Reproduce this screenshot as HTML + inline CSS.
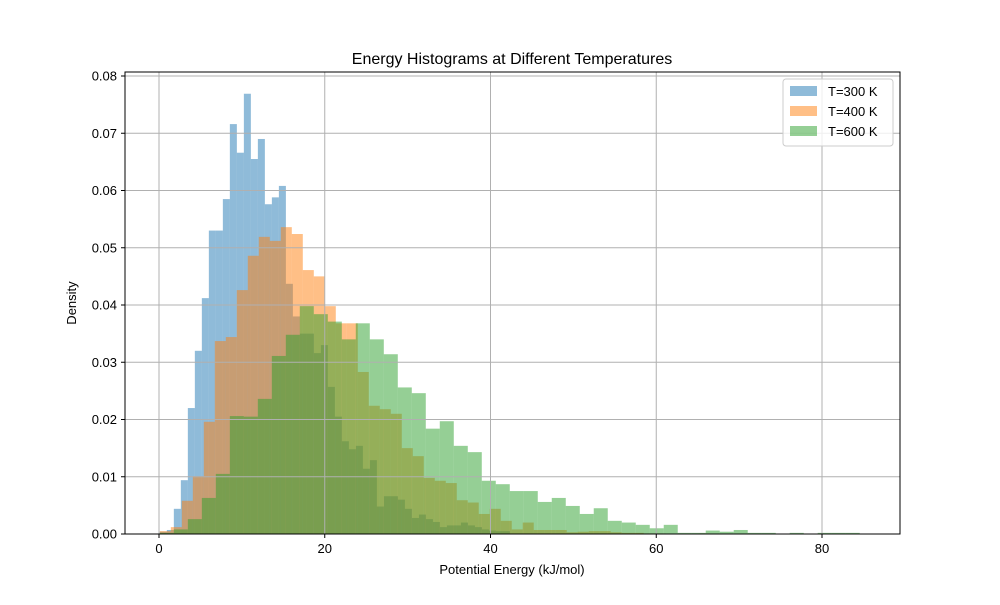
<!DOCTYPE html>
<html><head><meta charset="utf-8"><style>
body{margin:0;background:#fff;font-family:"Liberation Sans","DejaVu Sans",sans-serif;}
</style></head><body>
<svg id="chart" width="1000" height="600" xmlns="http://www.w3.org/2000/svg">
<rect width="1000" height="600" fill="#fff"/>
<g id="bars"></g>
<g id="grid"></g>
<rect x="125" y="72" width="775" height="462" fill="none" stroke="#000" stroke-width="1"/>
<g id="ticks"></g>
<text x="512" y="64" text-anchor="middle" font-size="16">Energy Histograms at Different Temperatures</text>
<text x="512" y="574" text-anchor="middle" font-size="13">Potential Energy (kJ/mol)</text>
<text x="76" y="303" text-anchor="middle" font-size="13" transform="rotate(-90 76 303)">Density</text>
<g>
<rect x="783" y="79" width="110" height="67" rx="3" fill="#fff" fill-opacity="0.8" stroke="#ccc"/>
<g><rect x="790" y="86" width="27" height="10" fill="#1f77b4" fill-opacity="0.5"/><text x="828" y="96" font-size="13">T=300 K</text></g>
<g><rect x="790" y="106" width="27" height="10" fill="#ff7f0e" fill-opacity="0.5"/><text x="828" y="116" font-size="13">T=400 K</text></g>
<g><rect x="790" y="126" width="27" height="10" fill="#2ca02c" fill-opacity="0.5"/><text x="828" y="136" font-size="13">T=600 K</text></g>
</g>
</svg>
<script>
const binStart = 0.1;
const blueWidth = 0.845, orangeWidth = 1.327, greenWidth = 1.689;
const blueValues = [0.0004,0.0007,0.0044,0.0094,0.022,0.032,0.0412,0.053,0.053,0.0585,0.0716,0.0666,0.0769,0.0655,0.069,0.0576,0.0588,0.0608,0.0437,0.038,0.035,0.035,0.0316,0.033,0.0257,0.0205,0.0162,0.0148,0.0154,0.0114,0.0129,0.0048,0.0066,0.0066,0.006,0.0044,0.0028,0.0034,0.0026,0.0021,0.0012,0.0015,0.0015,0.002,0.0015,0.0012,0.0008,0.0006,0.0005,0.0005];
const orangeValues = [0.0005,0.0012,0.0058,0.0101,0.0196,0.0337,0.0344,0.0426,0.0486,0.0519,0.0512,0.0536,0.0524,0.0461,0.045,0.0398,0.0368,0.0368,0.0283,0.0224,0.0218,0.021,0.015,0.0136,0.0098,0.0093,0.0089,0.0059,0.0055,0.0035,0.0044,0.0023,0.0008,0.002,0.0007,0.0007,0.0007,0.0003,0.0004,0.0005,0.0005,0.0003,0.0002,0.0002,0.0001,0.0001,0,0,0,0.0001];
const greenValues = [0.0002,0.0008,0.0026,0.0063,0.0105,0.0206,0.0205,0.0236,0.0311,0.0348,0.0398,0.0384,0.0371,0.034,0.0368,0.034,0.0314,0.0256,0.0246,0.0184,0.0197,0.0154,0.0143,0.0093,0.0087,0.0075,0.0075,0.0056,0.0063,0.0049,0.0035,0.0045,0.0023,0.002,0.0016,0.001,0.0016,0.0002,0.0002,0.0006,0.0004,0.0007,0.0002,0.0002,0,0.0002,0,0.0002,0.0002,0.0002];
const xTicks = [0,20,40,60,80];
const yTicks = [0,0.01,0.02,0.03,0.04,0.05,0.06,0.07,0.08];
const yTickLabels = ["0.00","0.01","0.02","0.03","0.04","0.05","0.06","0.07","0.08"];

const NS="http://www.w3.org/2000/svg";
function xs(v){return 159 + v*8.2875;}
function ys(v){return 534 - v*5725;}
function mk(tag,attrs,parent){const e=document.createElementNS(NS,tag);for(const k in attrs)e.setAttribute(k,attrs[k]);parent.appendChild(e);return e;}
const bars=document.getElementById('bars');
function series(vals,w,color,name){
  vals.forEach((v,i)=>{
    const x0=xs(binStart+i*w), x1=xs(binStart+(i+1)*w);
    const r=mk('rect',{x:x0,y:ys(v),width:x1-x0,height:ys(0)-ys(v),fill:color,'fill-opacity':0.5},bars);
    
    
  });
}
series(blueValues,blueWidth,'#1f77b4','bar-t300');
series(orangeValues,orangeWidth,'#ff7f0e','bar-t400');
series(greenValues,greenWidth,'#2ca02c','bar-t600');
const grid=document.getElementById('grid'), ticks=document.getElementById('ticks');
xTicks.forEach(t=>{
  const x=xs(t);
  const g=mk('line',{x1:x,x2:x,y1:72,y2:534,stroke:'#b0b0b0','stroke-width':1},grid);
  
  
  mk('line',{x1:x,x2:x,y1:534,y2:538,stroke:'#000'},ticks);
  const l=mk('text',{x:x,y:553,'text-anchor':'middle','font-size':13},ticks);
  l.textContent=t;
  
  
});
yTicks.forEach((t,i)=>{
  const y=ys(t);
  const g=mk('line',{x1:125,x2:900,y1:y,y2:y,stroke:'#b0b0b0','stroke-width':1},grid);
  
  
  mk('line',{x1:121,x2:125,y1:y,y2:y,stroke:'#000'},ticks);
  const l=mk('text',{x:117,y:y+4.5,'text-anchor':'end','font-size':13},ticks);
  l.textContent=yTickLabels[i];
  
  
});
</script>
</body></html>
